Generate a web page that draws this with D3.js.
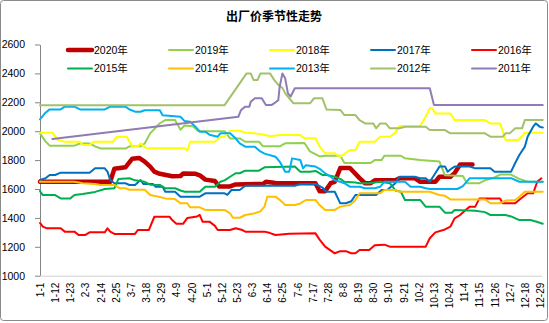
<!DOCTYPE html>
<html><head><meta charset="utf-8">
<script src="https://cdn.jsdelivr.net/npm/d3@7"></script>
<style>
html,body{margin:0;padding:0;background:#fff;}
svg{display:block;}
</style></head>
<body>
<svg id="chart" width="549" height="323"></svg>
<script>
// ---- data ----
const title = "出厂价季节性走势";
const xTickLabels = ["1-1","1-12","1-23","2-3","2-14","2-25","3-7","3-18","3-29","4-9","4-20","5-1","5-12","5-23","6-3","6-14","6-25","7-6","7-17","7-28","8-8","8-19","8-30","9-10","9-21","10-2","10-13","10-24","11-4","11-15","11-26","12-7","12-18","12-29"];
const yTicks = [1000,1200,1400,1600,1800,2000,2200,2400,2600];
const seriesNames = ["2020年","2019年","2018年","2017年","2016年","2015年","2014年","2013年","2012年","2011年"];
const seriesColors = ["#C00000","#92D050","#FFFF00","#0070C0","#FF0000","#00B050","#FFC000","#00B0F0","#A3C16B","#8F7BB5"];

const s2020 = [["1-1",1650],["2-21",1650],["2-24",1740],["3-3",1750],["3-8",1810],["3-13",1815],["3-17",1790],["3-21",1755],["3-24",1720],["3-28",1705],["4-6",1688],["4-12",1690],["4-14",1708],["4-23",1705],["4-26",1695],["4-30",1665],["5-7",1655],["5-10",1618],["5-18",1618],["5-22",1632],["6-11",1635],["6-13",1650],["6-20",1642],["7-19",1640],["7-22",1585],["7-26",1585],["7-30",1640],["8-2",1650],["8-6",1745],["8-13",1745],["8-20",1675],["8-24",1640],["8-28",1640],["8-31",1660],["9-15",1660],["9-18",1675],["9-29",1675],["10-3",1650],["10-14",1650],["10-17",1685],["10-25",1685],["10-28",1710],["11-1",1770],["11-10",1770]];
const s2019 = [["1-1",1985],["1-5",1930],["1-8",1900],["1-26",1900],["1-30",1915],["2-6",1915],["2-10",1895],["2-14",1880],["3-3",1880],["3-6",1895],["3-14",1895],["3-17",1915],["3-21",1985],["3-28",2055],["4-1",2077],["4-8",2077],["4-12",2010],["4-15",2040],["4-21",2035],["4-25",2000],["5-14",2000],["5-18",1950],["5-25",1950],["5-29",1927],["6-8",1927],["6-11",1895],["6-23",1895],["6-27",1916],["7-11",1918],["7-15",1860],["7-22",1825],["7-26",1830],["8-6",1830],["8-9",1780],["8-28",1780],["8-31",1800],["9-5",1800],["9-7",1830],["9-19",1830],["9-22",1812],["10-3",1800],["10-17",1790],["10-21",1695],["11-3",1690],["11-6",1640],["11-15",1640],["11-19",1660],["11-26",1680],["11-30",1700],["12-8",1700],["12-14",1670],["12-20",1650],["12-31",1650]];
const s2018 = [["1-1",1990],["1-10",1990],["1-14",1940],["1-19",1927],["1-30",1927],["2-1",1905],["2-6",1905],["2-9",1927],["2-23",1927],["2-26",1962],["3-4",1962],["3-6",1927],["3-8",1895],["3-12",1895],["3-14",1915],["3-18",1882],["4-15",1882],["4-17",1865],["4-19",1927],["5-7",1927],["5-11",1960],["5-14",1962],["5-18",2003],["5-25",2003],["5-29",1990],["6-5",1985],["6-12",1975],["6-16",1965],["6-23",1973],["7-8",1973],["7-11",1951],["7-19",1951],["7-22",1893],["7-26",1847],["8-2",1847],["8-6",1823],["8-13",1870],["8-17",1870],["8-20",1927],["8-31",1927],["9-4",1962],["9-11",1962],["9-15",1990],["9-18",2036],["10-3",2036],["10-7",2100],["10-10",2158],["10-12",2158],["10-14",2123],["10-25",2123],["10-28",2077],["11-19",2077],["11-23",2054],["11-30",2054],["12-2",2000],["12-4",1939],["12-13",1939],["12-16",1965],["12-18",1990],["12-31",1990]];
const s2017 = [["1-1",1662],["1-5",1674],["1-8",1697],["1-12",1697],["1-16",1713],["2-6",1713],["2-10",1743],["2-17",1743],["2-19",1720],["2-21",1662],["2-24",1640],["3-3",1640],["3-6",1628],["3-10",1628],["3-14",1662],["3-16",1635],["3-23",1635],["3-25",1616],["3-30",1616],["4-1",1581],["4-8",1581],["4-12",1547],["4-26",1547],["4-30",1570],["5-14",1570],["5-16",1560],["5-19",1593],["5-25",1593],["5-29",1623],["7-4",1623],["7-8",1635],["7-19",1635],["7-24",1610],["7-27",1581],["8-2",1581],["8-6",1501],["8-10",1501],["8-14",1515],["8-17",1558],["9-1",1558],["9-5",1593],["9-9",1593],["9-15",1640],["9-18",1685],["9-29",1685],["10-3",1674],["10-7",1674],["10-10",1650],["10-14",1709],["10-17",1755],["10-21",1755],["10-23",1720],["10-26",1743],["10-28",1755],["11-8",1755],["11-12",1743],["11-23",1743],["11-26",1720],["12-8",1720],["12-11",1780],["12-14",1835],["12-18",1893],["12-20",1962],["12-24",2031],["12-26",2054],["12-29",2030],["12-31",2025]];
const s2016 = [["1-1",1365],["1-3",1340],["1-6",1328],["1-16",1328],["1-19",1305],["1-26",1305],["1-29",1282],["2-3",1282],["2-6",1300],["2-17",1300],["2-19",1328],["2-21",1305],["2-24",1289],["3-10",1289],["3-12",1316],["3-20",1316],["3-24",1408],["4-4",1408],["4-6",1385],["4-9",1360],["4-14",1360],["4-17",1400],["4-24",1410],["4-26",1420],["4-28",1374],["5-3",1374],["5-7",1345],["5-9",1316],["5-18",1316],["5-22",1328],["5-27",1316],["5-29",1305],["6-12",1305],["6-16",1295],["6-20",1282],["6-30",1290],["7-19",1293],["7-22",1250],["7-26",1201],["8-2",1155],["8-6",1170],["8-10",1170],["8-14",1155],["8-17",1155],["8-20",1178],["8-27",1178],["8-31",1210],["9-7",1215],["9-11",1201],["10-7",1201],["10-10",1259],["10-14",1300],["10-21",1320],["10-25",1340],["10-28",1397],["11-1",1420],["11-5",1455],["11-8",1478],["11-12",1478],["11-15",1535],["11-30",1535],["12-2",1501],["12-11",1501],["12-14",1525],["12-20",1570],["12-24",1570],["12-27",1650],["12-30",1674]];
const s2015 = [["1-1",1585],["1-3",1558],["1-12",1558],["1-16",1535],["1-23",1535],["1-26",1558],["2-1",1565],["2-10",1580],["2-17",1600],["2-24",1605],["2-27",1670],["3-6",1674],["3-10",1660],["3-17",1650],["3-21",1630],["3-28",1628],["4-1",1605],["4-8",1605],["4-12",1590],["4-15",1581],["4-26",1581],["4-30",1616],["5-7",1616],["5-11",1650],["5-14",1660],["5-18",1685],["5-22",1709],["5-25",1709],["5-29",1727],["6-8",1727],["6-12",1750],["7-4",1755],["7-8",1720],["7-15",1720],["7-19",1725],["7-24",1697],["7-27",1697],["8-2",1685],["8-6",1670],["8-9",1650],["8-17",1645],["8-20",1640],["8-27",1640],["9-4",1650],["9-11",1640],["9-15",1590],["9-19",1581],["9-22",1524],["10-3",1524],["10-7",1478],["10-17",1478],["10-21",1436],["10-26",1436],["10-28",1455],["11-12",1450],["11-19",1440],["11-23",1420],["12-4",1420],["12-8",1410],["12-14",1385],["12-22",1385],["12-26",1375],["12-31",1360]];
const s2014 = [["1-1",1650],["1-26",1650],["2-1",1640],["2-10",1635],["2-14",1628],["2-24",1628],["2-28",1605],["3-3",1605],["3-6",1595],["3-17",1595],["3-21",1558],["3-28",1545],["4-1",1535],["4-8",1530],["4-12",1501],["4-17",1501],["4-19",1473],["4-26",1473],["4-30",1455],["5-14",1455],["5-18",1432],["5-20",1401],["5-25",1401],["5-29",1420],["6-5",1432],["6-9",1445],["6-12",1478],["6-14",1547],["6-20",1547],["6-23",1525],["6-27",1489],["7-4",1489],["7-8",1500],["7-12",1524],["7-19",1524],["7-22",1489],["7-26",1455],["8-2",1455],["8-6",1478],["8-13",1489],["8-17",1524],["8-20",1570],["9-4",1570],["9-7",1593],["9-15",1593],["9-18",1581],["10-10",1581],["10-17",1558],["10-21",1553],["10-25",1528],["11-19",1528],["11-23",1501],["11-30",1501],["12-4",1520],["12-11",1524],["12-14",1547],["12-18",1581],["12-31",1581]];
const s2013 = [["1-1",2082],["1-5",2128],["1-8",2151],["1-16",2151],["1-19",2170],["1-26",2170],["1-30",2151],["2-17",2151],["2-21",2170],["3-3",2170],["3-6",2150],["3-10",2135],["3-14",2135],["3-17",2145],["3-28",2145],["3-30",2110],["4-12",2100],["4-15",2070],["4-19",2066],["4-23",2030],["4-26",1997],["4-30",1997],["5-3",1975],["5-9",1962],["5-11",1985],["5-18",1985],["5-22",1951],["5-25",1916],["5-29",1893],["6-5",1893],["6-9",1860],["6-12",1845],["6-20",1823],["6-23",1790],["6-25",1755],["6-27",1720],["6-30",1720],["7-2",1812],["7-8",1800],["7-10",1743],["7-12",1765],["7-19",1755],["7-22",1740],["7-26",1709],["7-30",1685],["8-2",1660],["8-6",1650],["8-9",1640],["8-13",1616],["8-20",1616],["8-24",1605],["8-31",1605],["9-4",1616],["9-7",1650],["9-22",1650],["9-26",1616],["10-3",1616],["10-7",1605],["10-10",1600],["10-30",1600],["11-3",1620],["11-8",1675],["12-8",1675],["12-14",1650],["12-31",1650]];
const s2012 = [["1-1",2180],["5-14",2180],["5-30",2400],["6-2",2400],["6-4",2355],["6-7",2355],["6-9",2400],["6-16",2400],["6-19",2355],["6-22",2320],["6-25",2300],["6-27",2262],["6-30",2228],["7-3",2193],["7-15",2193],["7-18",2228],["7-24",2228],["7-27",2150],["8-6",2147],["8-9",2112],["8-17",2112],["8-20",2077],["8-24",2054],["8-30",2054],["9-1",2020],["9-4",2054],["9-8",2054],["9-11",2020],["9-18",2020],["9-22",2031],["10-7",2031],["10-10",2008],["10-21",2008],["10-25",1985],["11-19",1985],["11-23",1962],["12-2",1962],["12-4",1985],["12-7",1985],["12-11",2020],["12-16",2020],["12-18",2077],["12-31",2077]];
const s2011 = [["1-10",1946],["5-24",2100],["5-26",2147],["5-29",2170],["6-1",2170],["6-2",2204],["6-5",2228],["6-10",2228],["6-13",2181],["6-17",2181],["6-20",2200],["6-22",2215],["6-23",2308],["6-25",2400],["6-27",2366],["6-29",2262],["7-1",2240],["7-4",2297],["10-10",2297],["10-13",2181],["12-31",2181]];

const seriesData = [s2020,s2019,s2018,s2017,s2016,s2015,s2014,s2013,s2012,s2011];

// ---- helpers ----
const monthStart = [0,31,60,91,121,152,182,213,244,274,305,335]; // leap-year calendar
const dayIdx = s => { const [m,d] = s.split("-").map(Number); return monthStart[m-1] + d - 1; };

const svg = d3.select("#chart");
const x = d3.scaleLinear().domain([0,363]).range([40,540]);
const y = d3.scaleLinear().domain([1000,2600]).range([275.7,44.5]);

// outer border
svg.append("rect").attr("x",0.5).attr("y",0.5).attr("width",547).attr("height",320)
  .attr("rx",3).attr("fill","#fff").attr("stroke","#8a8a8a").attr("stroke-width",1);

// title
svg.append("text").attr("x",274).attr("y",21).attr("text-anchor","middle")
  .attr("font-family","'Noto Sans CJK SC', sans-serif").attr("font-weight","bold")
  .attr("font-size","12px").attr("fill","#000").text(title);

// y axis
const yAxis = svg.append("g").attr("transform","translate(40,0)")
  .call(d3.axisLeft(y).tickValues(yTicks).tickSize(5).tickSizeOuter(0).tickPadding(10).tickFormat(d3.format("d")));
yAxis.select(".domain").attr("stroke","#868686");
yAxis.selectAll(".tick line").attr("stroke","#868686");
yAxis.selectAll("text").attr("font-family","'Liberation Sans', Arial, sans-serif").attr("font-size","10.5px").attr("fill","#000");

// x axis
const xAxis = svg.append("g").attr("transform",`translate(0,${y(1000)})`)
  .call(d3.axisBottom(x).tickValues(xTickLabels.map(dayIdx)).tickSize(0).tickSizeOuter(0)
    .tickFormat((d,i) => xTickLabels[i]));
xAxis.select(".domain").attr("stroke","#d0d0d0").attr("d",`M40,0.5H542`);
xAxis.selectAll("text")
  .attr("font-family","'Liberation Sans', Arial, sans-serif").attr("font-size","10px").attr("fill","#000")
  .attr("transform","rotate(-90)").attr("text-anchor","end")
  .attr("x",-7).attr("y",0).attr("dy","0.35em");

// lines
const line = d3.line().x(p => x(dayIdx(p[0]))).y(p => y(p[1])).curve(d3.curveLinear);
seriesData.forEach((s,i) => {
  svg.append("path").datum(s).attr("d",line).attr("fill","none")
    .attr("stroke",seriesColors[i]).attr("stroke-width", i===0 ? 4.5 : 2)
    .attr("stroke-linejoin","round").attr("stroke-linecap","round");
});

// legend
const legX = [68,169,270,371,472];
const legY = [50,68.5];
seriesNames.forEach((name,i) => {
  const cx = legX[i%5], cy = legY[Math.floor(i/5)];
  const g = svg.append("g");
  g.append("line").attr("x1",cx).attr("x2",cx+24).attr("y1",cy).attr("y2",cy)
    .attr("stroke",seriesColors[i]).attr("stroke-width", i===0 ? 4.5 : 2).attr("stroke-linecap","round");
  g.append("text").attr("x",cx+26).attr("y",cy).attr("dy","0.36em")
    .attr("font-family","'Liberation Sans', 'Noto Sans CJK SC', sans-serif").attr("font-size","10.5px")
    .attr("fill","#000").text(name);
});
</script>
</body></html>
